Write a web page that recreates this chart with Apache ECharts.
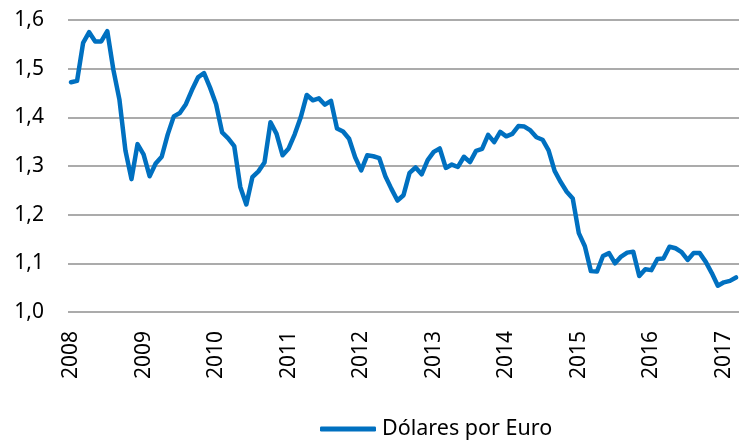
<!DOCTYPE html>
<html>
<head>
<meta charset="utf-8">
<script src="https://cdn.jsdelivr.net/npm/echarts@6/dist/echarts.min.js"></script>
<style>
  html, body { margin: 0; padding: 0; background: #fff; }
  #chart { width: 739px; height: 442px; }
</style>
</head>
<body>
<div id="chart"></div>
<script>
  // meses de ene 2008 a mar 2017
  var years = ['2008', '2009', '2010', '2011', '2012', '2013', '2014', '2015', '2016', '2017'];
  var months = ['01', '02', '03', '04', '05', '06', '07', '08', '09', '10', '11', '12'];
  var yTicks = [1.0, 1.1, 1.2, 1.3, 1.4, 1.5, 1.6];
  var seriesName = 'Dólares por Euro';

  var usdPerEur = [
    // 2008
    1.472, 1.475, 1.553, 1.575, 1.556, 1.556, 1.577, 1.498, 1.437, 1.332, 1.273, 1.345,
    // 2009
    1.324, 1.279, 1.305, 1.319, 1.365, 1.402, 1.409, 1.427, 1.456, 1.482, 1.491, 1.461,
    // 2010
    1.427, 1.369, 1.357, 1.341, 1.257, 1.221, 1.277, 1.289, 1.307, 1.390, 1.366, 1.322,
    // 2011
    1.336, 1.365, 1.400, 1.446, 1.435, 1.439, 1.426, 1.434, 1.377, 1.371, 1.356, 1.318,
    // 2012
    1.291, 1.322, 1.320, 1.316, 1.279, 1.253, 1.229, 1.240, 1.286, 1.297, 1.283, 1.312,
    // 2013
    1.329, 1.336, 1.296, 1.303, 1.298, 1.319, 1.308, 1.331, 1.335, 1.364, 1.349, 1.370,
    // 2014
    1.361, 1.366, 1.382, 1.381, 1.373, 1.359, 1.354, 1.332, 1.290, 1.267, 1.247, 1.233,
    // 2015
    1.162, 1.135, 1.084, 1.083, 1.115, 1.121, 1.100, 1.114, 1.122, 1.124, 1.074, 1.088,
    // 2016
    1.086, 1.109, 1.110, 1.134, 1.131, 1.123, 1.107, 1.121, 1.121, 1.103, 1.080, 1.054,
    // 2017
    1.061, 1.064, 1.071
  ];

  var categories = [];
  years.forEach(function (y) {
    months.forEach(function (m) {
      if (categories.length < usdPerEur.length) categories.push(y + '-' + m);
    });
  });

  var font = '"Noto Sans", "Open Sans", sans-serif';
  var myChart = echarts.init(document.getElementById('chart'));
  var option = {
    backgroundColor: '#fff',
    animation: false,
    grid: { left: 68, right: 0, top: 20, bottom: 130, containLabel: false },
    legend: {
      data: [seriesName],
      left: 315,
      top: 413,
      icon: 'roundRect',
      itemWidth: 56,
      itemHeight: 5,
      itemGap: 0,
      textStyle: { fontFamily: font, fontSize: 21.5, color: '#000', padding: [0, 0, 0, 1] }
    },
    xAxis: {
      type: 'category',
      data: categories,
      boundaryGap: true,
      axisLine: { show: false },
      axisTick: { show: false },
      splitLine: { show: false },
      axisLabel: {
        interval: 11,
        rotate: 90,
        margin: 19,
        fontFamily: font,
        fontSize: 21,
        color: '#000',
        formatter: function (v) { return v.slice(0, 4); }
      }
    },
    yAxis: {
      type: 'value',
      min: yTicks[0],
      max: yTicks[yTicks.length - 1],
      interval: 0.1,
      axisLine: { show: false },
      axisTick: { show: false },
      splitLine: { lineStyle: { color: '#8f8f8f', width: 1.5 } },
      axisLabel: {
        margin: 24,
        fontFamily: font,
        fontSize: 21,
        color: '#000',
        formatter: function (v) { return v.toFixed(1).replace('.', ','); }
      }
    },
    series: [{
      name: seriesName,
      type: 'line',
      data: usdPerEur,
      symbol: 'none',
      lineStyle: { color: '#0070C0', width: 4.5, cap: 'round', join: 'round' },
      itemStyle: { color: '#0070C0' }
    }]
  };
  myChart.setOption(option);
</script>
</body>
</html>
